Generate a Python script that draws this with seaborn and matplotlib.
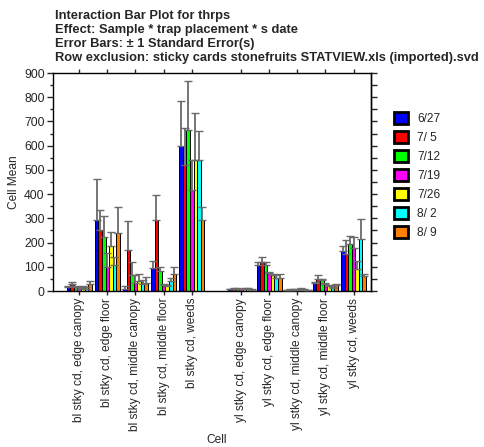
import numpy as np
import pandas as pd
import matplotlib
matplotlib.use("Agg")
import matplotlib.pyplot as plt
import seaborn as sns
from matplotlib.patches import Patch
from matplotlib.ticker import MultipleLocator

# ---- data ----
groups = ["bl stky cd, edge canopy", "bl stky cd, edge floor", "bl stky cd, middle canopy",
          "bl stky cd, middle floor", "bl stky cd, weeds",
          "yl stky cd, edge canopy", "yl stky cd, edge floor", "yl stky cd, middle canopy",
          "yl stky cd, middle floor", "yl stky cd, weeds"]
dates = ["6/27", "7/ 5", "7/12", "7/19", "7/26", "8/ 2", "8/ 9"]
colors = ["#0000FF", "#FF0000", "#00FF00", "#FF00FF", "#FFFF00", "#00FFFF", "#FF8000"]

mean_0627 = [18, 293, 10, 96, 598, 7, 108, 4, 33, 165]
mean_0705 = [30, 250, 171, 293, 522, 8, 120, 6, 50, 152]
mean_0712 = [15, 222, 67, 83, 664, 8, 108, 6, 44, 194]
mean_0719 = [8, 100, 35, 23, 418, 7, 76, 6, 29, 178]
mean_0726 = [14, 185, 43, 21, 539, 8, 68, 8, 22, 91]
mean_0802 = [8, 108, 29, 43, 539, 10, 53, 5, 14, 215]
mean_0809 = [29, 240, 35, 72, 292, 6, 55, 4, 24, 60]

se_0627 = [4, 169, 11, 26, 188, 2, 11, 2, 3, 21]
se_0705 = [9, 83, 116, 103, 151, 3, 20, 2, 15, 58]
se_0712 = [5, 89, 52, 15, 205, 3, 10, 2, 6, 35]
se_0719 = [10, 57, 29, 6, 123, 3, 4, 3, 3, 44]
se_0726 = [6, 59, 28, 5, 194, 4, 4, 3, 4, 31]
se_0802 = [9, 34, 17, 11, 121, 4, 15, 2, 4, 82]
se_0809 = [14, 108, 22, 28, 56, 2, 17, 1, 4, 12]

means = [mean_0627, mean_0705, mean_0712, mean_0719, mean_0726, mean_0802, mean_0809]
ses = [se_0627, se_0705, se_0712, se_0719, se_0726, se_0802, se_0809]

title_lines = ["Interaction Bar Plot for thrps",
               "Effect: Sample * trap placement * s date",
               "Error Bars: \u00b1 1 Standard Error(s)",
               "Row exclusion: sticky cards stonefruits STATVIEW.xls (imported).svd"]

# ---- layout helpers ----
group_pos = [i + (0.75 if i >= 5 else 0.0) for i in range(len(groups))]

rows = []
for d, m in zip(dates, means):
    for g, p, v in zip(groups, group_pos, m):
        rows.append({"pos": p, "date": d, "value": v})
df = pd.DataFrame(rows)

sns.set_style("white")
plt.rcParams['font.family'] = ['Liberation Sans', 'DejaVu Sans']

W, H = 485, 447
fig = plt.figure(figsize=(W / 100, H / 100), dpi=100)
ax = fig.add_axes([53 / W, 1 - 291 / H, 318 / W, 218 / H])

sns.barplot(data=df, x="pos", y="value", hue="date", hue_order=dates,
            palette=colors, native_scale=True, orient="x", width=0.89,
            errorbar=None, edgecolor="black", linewidth=0.7, legend=False,
            saturation=1, ax=ax)

# error bars (upward only)
for cont, se in zip(ax.containers, ses):
    bars = sorted(cont.patches, key=lambda b: b.get_x())
    xs = [b.get_x() + b.get_width() / 2 for b in bars]
    hs = [b.get_height() for b in bars]
    _, caps, _ = ax.errorbar(xs, hs, yerr=[np.zeros(len(se)), se], fmt="none",
                             ecolor="#6a6a6a", elinewidth=1.3, capsize=2.6,
                             capthick=1.0, zorder=5)
    for c in caps:
        c.set_color("black")

ax.set_xlim(-0.93, 10.37)
ax.set_ylim(0, 900)
ax.set_xticks(group_pos)
ax.set_xticklabels(groups, rotation=90, fontsize=8.6)
ax.yaxis.set_major_locator(MultipleLocator(100))
ax.yaxis.set_minor_locator(MultipleLocator(50))
ax.tick_params(axis="y", which="major", direction="out", length=4, width=1,
               labelsize=8.8, left=True, pad=2)
ax.tick_params(axis="y", which="minor", direction="out", length=2.5, width=1, left=True)
ax.tick_params(axis="x", which="major", direction="out", length=3, width=1,
               bottom=True, top=True, pad=2)
ax.set_xlabel("")
ax.set_ylabel("")
for s in ax.spines.values():
    s.set_visible(True)
    s.set_color("black")
    s.set_linewidth(1.0)

sec = ax.secondary_yaxis("right")
sec.yaxis.set_major_locator(MultipleLocator(50))
sec.tick_params(direction="out", length=4, width=1, labelright=False)
sec.spines["right"].set_linewidth(1.0)

# titles
baselines = [18.5, 32.6, 46.7, 60.8]
for t, b in zip(title_lines, baselines):
    fig.text(55 / W, 1 - b / H, t, fontsize=9.25, fontweight="bold",
             ha="left", va="baseline")

fig.text(14 / W, 1 - 182 / H, "Cell Mean", rotation=90, fontsize=8.6,
         ha="center", va="center")
fig.text(217 / W, 1 - 440 / H, "Cell", fontsize=8.6, ha="center", va="center")

handles = [Patch(facecolor=c, edgecolor="black", linewidth=2) for c in colors]
fig.legend(handles, dates, loc="upper left", bbox_to_anchor=(394 / W, 1 - 112 / H),
           frameon=False, fontsize=8.6, handlelength=1.15, handleheight=1.15,
           labelspacing=0.5, handletextpad=0.8, borderpad=0, borderaxespad=0)

fig.savefig("out.png", dpi=100)
